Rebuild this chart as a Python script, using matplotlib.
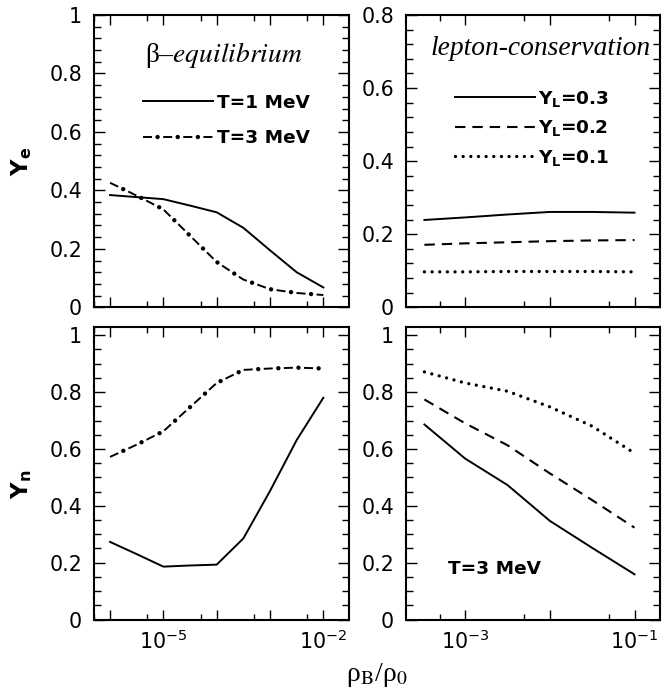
# Ye / Yn vs baryon density: beta-equilibrium and lepton-conservation panels
# 2x2 grid, log x axes, inward ticks on all four sides.

import matplotlib

matplotlib.use("Agg")
import matplotlib.pyplot as plt
from matplotlib.ticker import FixedLocator, FixedFormatter, FuncFormatter, MultipleLocator, NullFormatter

plt.rcParams["font.family"] = ["DejaVu Sans"]
plt.rcParams["mathtext.fontset"] = "dejavusans"
plt.rcParams["lines.scale_dashes"] = False  # dash patterns in points

# ---------------------------------------------------------------------------
# Data
# ---------------------------------------------------------------------------

# beta-equilibrium panels (left)
rho_beta = [1e-6, 3.16e-6, 1e-5, 3.16e-5, 1e-4, 3.16e-4, 1e-3, 3.16e-3, 1e-2]
ye_t1 = [0.384, 0.377, 0.370, 0.348, 0.325, 0.272, 0.195, 0.120, 0.068]
ye_t3 = [0.426, 0.382, 0.335, 0.245, 0.155, 0.095, 0.062, 0.049, 0.042]
yn_t1 = [0.273, 0.230, 0.186, 0.190, 0.193, 0.285, 0.452, 0.631, 0.780]
yn_t3 = [0.572, 0.615, 0.662, 0.747, 0.832, 0.878, 0.883, 0.886, 0.883]

# lepton-conservation panels (right), T = 3 MeV
rho_lep = [3.3e-4, 1e-3, 3.16e-3, 1e-2, 3.16e-2, 1e-1]
ye_yl3 = [0.239, 0.246, 0.254, 0.261, 0.261, 0.259]
ye_yl2 = [0.171, 0.175, 0.178, 0.181, 0.183, 0.184]
ye_yl1 = [0.097, 0.097, 0.098, 0.098, 0.098, 0.097]
yn_yl3 = [0.686, 0.566, 0.473, 0.347, 0.252, 0.159]
yn_yl2 = [0.774, 0.690, 0.613, 0.514, 0.420, 0.323]
yn_yl1 = [0.871, 0.832, 0.803, 0.748, 0.680, 0.585]

beta_labels = ["T=1 MeV", "T=3 MeV"]
lep_labels = [r"$\mathbf{Y_L}$=0.3", r"$\mathbf{Y_L}$=0.2", r"$\mathbf{Y_L}$=0.1"]

# x tick labels (only some decades carry a label, bottom row only)
beta_xticks = [1e-6, 1e-5, 1e-4, 1e-3, 1e-2]
beta_xticklabels = ["", r"$\mathdefault{10^{-5}}$", "", "", r"$\mathdefault{10^{-2}}$"]
lep_xticks = [1e-3, 1e-2, 1e-1]
lep_xticklabels = [r"$\mathdefault{10^{-3}}$", "", r"$\mathdefault{10^{-1}}$"]

# ---------------------------------------------------------------------------
# Styles / layout
# ---------------------------------------------------------------------------

FIG_W, FIG_H = 662, 695
LW = 1.4
DASHED = (0, (7.5, 5.0))
DOTTED = (0, (0.01, 5.5))
DD_DASH = (0, (6.5, 8.0))
DD_DOT = (4.0, (0.01, 14.49))

TICK_FS = 14.8
LEG_FS = 13.3
SERIF_FS = 19.8


def px_axes(fig, x0, y0, x1, y1):
    """Add axes from pixel box (top-left origin)."""
    return fig.add_axes([x0 / FIG_W, 1 - y1 / FIG_H, (x1 - x0) / FIG_W, (y1 - y0) / FIG_H])


def dashdot(ax, x, y):
    """Dash + big-dot line built from two overlaid patterns."""
    (a,) = ax.plot(x, y, color="black", lw=LW, linestyle=DD_DASH, dash_capstyle="butt")
    (b,) = ax.plot(x, y, color="black", lw=3.2, linestyle=DD_DOT, dash_capstyle="round")
    return (a, b)


def style_axes(ax, xlim, ylim, xticks, xticklabels, yminor):
    ax.set_xscale("log")
    ax.set_xlim(*xlim)
    ax.set_ylim(*ylim)
    ax.xaxis.set_major_locator(FixedLocator(xticks))
    if xticklabels is None:
        ax.xaxis.set_major_formatter(NullFormatter())
    else:
        ax.xaxis.set_major_formatter(FixedFormatter(xticklabels))
    ax.xaxis.set_minor_locator(FixedLocator([5 * t / 10 for t in xticks] + [5 * xticks[-1]]))
    ax.xaxis.set_minor_formatter(NullFormatter())
    ax.yaxis.set_major_locator(MultipleLocator(0.2))
    ax.yaxis.set_minor_locator(MultipleLocator(yminor))
    ax.yaxis.set_major_formatter(FuncFormatter(lambda v, p: f"{v:g}"))
    ax.tick_params(which="both", direction="in", top=True, right=True, width=1.0,
                   labelsize=TICK_FS)
    ax.tick_params(axis="x", which="major", length=7.5, pad=7)
    ax.tick_params(axis="x", which="minor", length=4)
    ax.tick_params(axis="y", which="major", length=8, pad=8.6)
    ax.tick_params(axis="y", which="minor", length=4.8)
    for s in ax.spines.values():
        s.set_linewidth(1.5)


def main():
    fig = plt.figure(figsize=(FIG_W / 100, FIG_H / 100), dpi=100)

    ax_tl = px_axes(fig, 94, 15, 349.3, 307.3)
    ax_tr = px_axes(fig, 406, 15, 660, 307.3)
    ax_bl = px_axes(fig, 94, 326.7, 349.3, 619.5)
    ax_br = px_axes(fig, 406, 326.7, 660, 619.5)

    beta_xlim = (5e-7, 3.07e-2)
    lep_xlim = (2e-4, 0.2)

    # --- top left: Ye, beta-equilibrium
    (s1,) = ax_tl.plot(rho_beta, ye_t1, color="black", lw=LW)
    d1 = dashdot(ax_tl, rho_beta, ye_t3)
    style_axes(ax_tl, beta_xlim, (0, 1), beta_xticks, None, 0.04)
    ax_tl.text(0.509, 0.84, r"β–$\mathit{equilibrium}$", transform=ax_tl.transAxes,
               ha="center", va="baseline", family="Liberation Serif", fontsize=SERIF_FS,
               math_fontfamily="stix")
    ax_tl.legend([s1, d1], beta_labels, loc="upper left", bbox_to_anchor=(0.192, 0.73),
                 frameon=False, borderpad=0, borderaxespad=0, handlelength=3.78,
                 handletextpad=0.22, labelspacing=0.95,
                 prop={"weight": "bold", "size": LEG_FS})
    ax_tl.set_ylabel(r"$\mathbf{Y_e}$", fontsize=16.5)
    ax_tl.yaxis.set_label_coords(-0.235, 0.5)

    # --- top right: Ye, lepton conservation
    (l3,) = ax_tr.plot(rho_lep, ye_yl3, color="black", lw=LW)
    (l2,) = ax_tr.plot(rho_lep, ye_yl2, color="black", lw=1.5, linestyle=DASHED)
    (l1,) = ax_tr.plot(rho_lep, ye_yl1, color="black", lw=2.4, linestyle=DOTTED,
                       dash_capstyle="round")
    style_axes(ax_tr, lep_xlim, (0, 0.8), lep_xticks, None, 0.04)
    ax_tr.text(0.531, 0.863, "lepton-conservation", transform=ax_tr.transAxes,
               ha="center", va="baseline", family="Liberation Serif", style="italic",
               fontsize=SERIF_FS)
    ax_tr.legend([l3, l2, l1], lep_labels, loc="upper left", bbox_to_anchor=(0.193, 0.748),
                 frameon=False, borderpad=0, borderaxespad=0, handlelength=4.32,
                 handletextpad=0.16, labelspacing=0.52,
                 prop={"weight": "bold", "size": LEG_FS})

    # --- bottom left: Yn, beta-equilibrium
    ax_bl.plot(rho_beta, yn_t1, color="black", lw=LW)
    dashdot(ax_bl, rho_beta, yn_t3)
    style_axes(ax_bl, beta_xlim, (0, 1.03), beta_xticks, beta_xticklabels, 0.05)
    ax_bl.set_ylabel(r"$\mathbf{Y_n}$", fontsize=16.5)
    ax_bl.yaxis.set_label_coords(-0.235, 0.46)

    # --- bottom right: Yn, lepton conservation
    ax_br.plot(rho_lep, yn_yl3, color="black", lw=LW)
    ax_br.plot(rho_lep, yn_yl2, color="black", lw=1.5, linestyle=DASHED)
    ax_br.plot(rho_lep, yn_yl1, color="black", lw=2.4, linestyle=DOTTED, dash_capstyle="round")
    style_axes(ax_br, lep_xlim, (0, 1.03), lep_xticks, lep_xticklabels, 0.05)
    ax_br.text(0.165, 0.174, "T=3 MeV", transform=ax_br.transAxes, ha="left", va="center",
               weight="bold", fontsize=LEG_FS)

    fig.text(377 / FIG_W, 1 - 681 / FIG_H, r"ρ$_\mathrm{B}$/ρ$_0$", ha="center",
             va="baseline", family="Liberation Serif", fontsize=20, math_fontfamily="stix")

    fig.savefig("out.png", dpi=100)


if __name__ == "__main__":
    main()
